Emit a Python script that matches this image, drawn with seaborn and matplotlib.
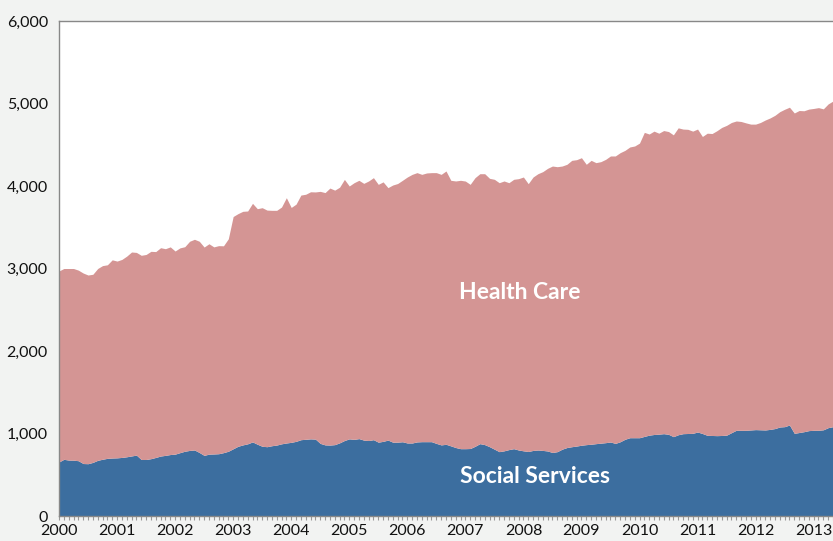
import numpy as np
import pandas as pd
import matplotlib
matplotlib.use("Agg")
import matplotlib.pyplot as plt
from matplotlib.ticker import FuncFormatter, MultipleLocator
import seaborn as sns

# monthly employment (thousands), Jan 2000 - May 2013
total = [
    2970, 3000, 3000, 3000, 2980, 2945, 2921, 2930, 3000, 3035, 3045, 3105,  # 2000
    3090, 3110, 3150, 3200, 3195, 3160, 3170, 3208, 3205, 3252, 3240, 3262,  # 2001
    3212, 3250, 3264, 3330, 3354, 3330, 3260, 3300, 3262, 3277, 3275, 3360,  # 2002
    3630, 3665, 3693, 3697, 3790, 3725, 3737, 3708, 3705, 3705, 3745, 3858,  # 2003
    3740, 3780, 3890, 3900, 3930, 3928, 3935, 3920, 3975, 3950, 3985, 4080,  # 2004
    4000, 4040, 4069, 4032, 4061, 4101, 4020, 4050, 3980, 4012, 4030, 4069,  # 2005
    4109, 4141, 4162, 4141, 4158, 4162, 4162, 4141, 4182, 4069, 4061, 4069,  # 2006
    4060, 4020, 4101, 4149, 4149, 4093, 4081, 4040, 4061, 4040, 4081, 4089,  # 2007
    4109, 4028, 4109, 4149, 4174, 4214, 4242, 4234, 4242, 4263, 4311, 4319,  # 2008
    4343, 4263, 4311, 4283, 4295, 4323, 4364, 4364, 4404, 4432, 4473, 4485,  # 2009
    4520, 4650, 4630, 4665, 4640, 4672, 4660, 4620, 4705, 4690, 4687, 4665,  # 2010
    4690, 4600, 4640, 4636, 4670, 4710, 4735, 4770, 4788, 4782, 4765, 4750,  # 2011
    4750, 4770, 4800, 4825, 4857, 4901, 4930, 4955, 4885, 4915, 4912, 4932,  # 2012
    4940, 4950, 4935, 4995, 5030,                                            # 2013
]

social_services = [
    655, 687, 678, 677, 670, 636, 634, 650, 675, 688, 699, 703,              # 2000
    705, 710, 718, 728, 738, 685, 685, 695, 710, 727, 735, 745,              # 2001
    750, 768, 785, 795, 800, 770, 735, 750, 752, 755, 768, 785,              # 2002
    815, 845, 862, 875, 898, 870, 845, 840, 852, 860, 875, 885,              # 2003
    893, 905, 925, 930, 935, 932, 880, 862, 860, 865, 887, 915,              # 2004
    935, 929, 938, 920, 915, 925, 895, 905, 920, 895, 895, 900,              # 2005
    885, 885, 898, 901, 901, 901, 880, 862, 869, 850, 830, 816,              # 2006
    816, 818, 845, 877, 865, 840, 810, 780, 790, 805, 816, 800,              # 2007
    790, 782, 795, 800, 795, 788, 770, 780, 810, 830, 840, 848,              # 2008
    858, 865, 870, 877, 883, 889, 897, 880, 900, 930, 949, 949,              # 2009
    949, 965, 980, 988, 992, 998, 990, 962, 985, 998, 1000, 1002,            # 2010
    1018, 1000, 978, 976, 974, 976, 980, 1010, 1039, 1039, 1039, 1043,       # 2011
    1047, 1045, 1043, 1050, 1060, 1079, 1083, 1103, 1002, 1012, 1022, 1035,  # 2012
    1039, 1039, 1045, 1071, 1083,                                            # 2013
]

year_ticks = list(range(2000, 2014))

dates = pd.date_range("2000-01-01", periods=len(total), freq="MS")
x = np.asarray(dates.year + (dates.month - 1) / 12.0)

sns.set_theme(style="white")
plt.rcParams['font.family'] = ['Lato', 'DejaVu Sans']

fig = plt.figure(figsize=(8.33, 5.41), dpi=100, facecolor='#f2f3f2')
ax = fig.add_axes([59 / 833, 25 / 541, 1 - 59 / 833, 495 / 541])
ax.set_facecolor('white')

blue = '#3c6e9f'
pink = '#d49594'
ax.fill_between(x, 0, social_services, color=blue, linewidth=0)
ax.fill_between(x, social_services, total, color=pink, linewidth=0)

ax.set_xlim(x[0], x[-1])
ax.set_ylim(0, 6000)
ax.set_xticks(year_ticks)
ax.set_xticklabels([str(y) for y in year_ticks])
ax.xaxis.set_minor_locator(MultipleLocator(1 / 12))
ax.set_yticks(range(0, 6001, 1000))
ax.yaxis.set_major_formatter(FuncFormatter(lambda v, p: f"{int(v):,}"))

ax.tick_params(axis='x', which='both', direction='out', length=3, width=0.8,
               color='#999999', bottom=True, pad=3, labelsize=11.5, labelcolor='#111111')
ax.tick_params(axis='y', length=0, pad=8, labelsize=11.5, labelcolor='#111111')

for side in ['left', 'bottom', 'top']:
    ax.spines[side].set_color('#888888')
    ax.spines[side].set_linewidth(1)
ax.spines['right'].set_visible(False)

ax.text(2000 + 95.2 / 12, 2706, "Health Care", color='white', fontsize=16.5,
        fontweight='bold', ha='center', va='center')
ax.text(2000 + 98.3 / 12, 478, "Social Services", color='white', fontsize=16.5,
        fontweight='bold', ha='center', va='center')

fig.savefig("out.png", dpi=100, facecolor=fig.get_facecolor())
